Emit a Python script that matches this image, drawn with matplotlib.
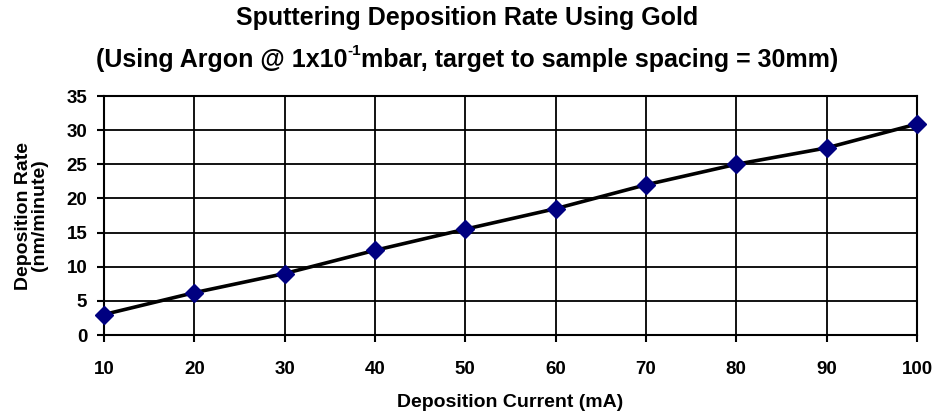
import matplotlib
matplotlib.use('Agg')
import matplotlib.pyplot as plt
from matplotlib.transforms import offset_copy

# 스퍼터링 증착 속도 (금, 아르곤)
current = [10, 20, 30, 40, 50, 60, 70, 80, 90, 100]
rate = [3.0, 6.2, 9.0, 12.4, 15.5, 18.5, 22.0, 25.0, 27.4, 30.9]
x_ticks = [10, 20, 30, 40, 50, 60, 70, 80, 90, 100]
y_ticks = [0, 5, 10, 15, 20, 25, 30, 35]

plt.rcParams['font.family'] = ['Liberation Sans', 'DejaVu Sans']
plt.rcParams['font.weight'] = 'bold'

fig = plt.figure(figsize=(9.35, 4.11), dpi=100)
ax = fig.add_axes([0.1112, 0.1849, 0.8695, 0.5815])

ax.plot(current, rate, '-', color='black', lw=2.6, zorder=3)
ax.plot(current, rate, 'D', color='#000080', ms=9.5, zorder=4, clip_on=False)

ax.set_xlim(10, 100)
ax.set_ylim(0, 35)
ax.set_xticks(x_ticks)
ax.set_yticks(y_ticks)
ax.grid(True, color='black', lw=1.3)
for s in ax.spines.values():
    s.set_linewidth(1.5)
ax.tick_params(axis='both', direction='out', length=5, width=1.5, labelsize=13.5)
ax.tick_params(axis='x', pad=14)
ax.tick_params(axis='y', pad=7)
for lab in ax.get_xticklabels() + ax.get_yticklabels():
    lab.set_fontweight('bold')

ax.set_xlabel('Deposition Current (mA)', fontsize=14, fontweight='bold', labelpad=11)
ax.set_ylabel('Deposition Rate\n(nm/minute)', fontsize=14, fontweight='bold', labelpad=13, linespacing=0.95)

fig.text(0.5, 1 - 18/411, 'Sputtering Deposition Rate Using Gold',
         ha='center', va='center', fontsize=18, fontweight='bold')

# 두 번째 제목 줄: 위첨자 "-1" 을 따로 그림
part1 = '(Using Argon @ 1x10'
sup = '-1'
part2 = 'mbar, target to sample spacing = 30mm)'
base_y = 1 - 67/411
r = fig.canvas.get_renderer()
t1 = fig.text(0, base_y, part1, fontsize=18, fontweight='bold', va='baseline')
ts = fig.text(0, base_y, sup, fontsize=11, fontweight='bold', va='baseline')
t2 = fig.text(0, base_y, part2, fontsize=18, fontweight='bold', va='baseline')
w1 = t1.get_window_extent(r).width
ws = ts.get_window_extent(r).width
w2 = t2.get_window_extent(r).width
x0 = (fig.bbox.width - (w1 + ws + w2)) / 2
t1.set_x(x0 / fig.bbox.width)
ts.set_x((x0 + w1) / fig.bbox.width)
ts.set_transform(offset_copy(fig.transFigure, fig=fig, x=0, y=12, units='dots'))
t2.set_x((x0 + w1 + ws) / fig.bbox.width)

fig.savefig('out.png', dpi=100)
